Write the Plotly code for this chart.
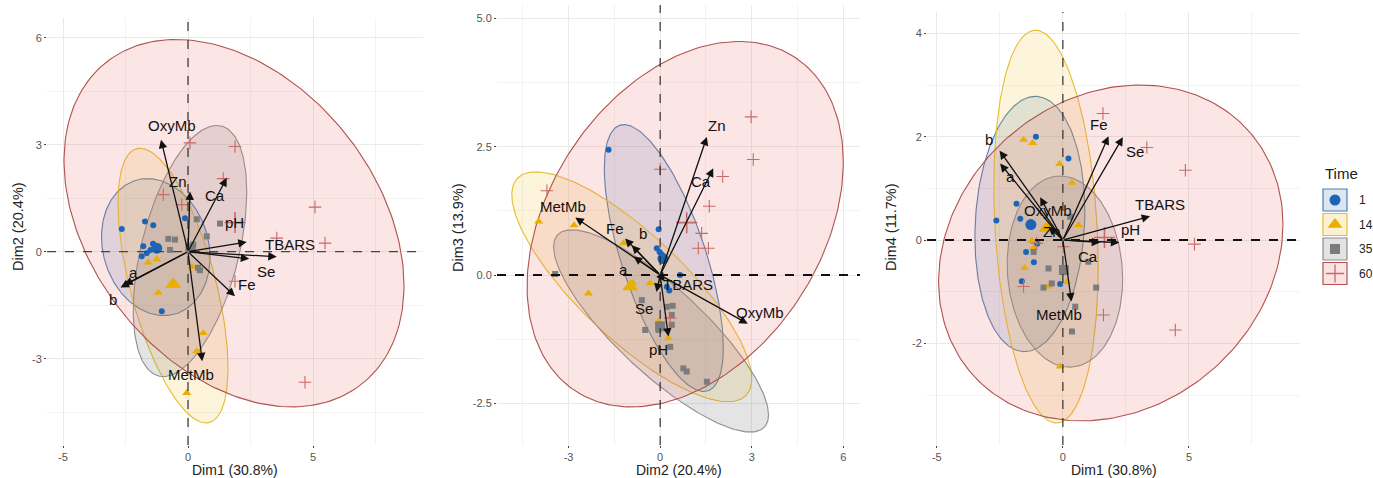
import numpy as np
import plotly.graph_objects as go

# ---------------- data ----------------
GROUPS = ["1", "14", "35", "60"]
VARS = ["OxyMb", "Zn", "Ca", "pH", "TBARS", "Se", "Fe", "MetMb", "a", "b"]

# Panel 1: Dim1 (x) vs Dim2 (y)
P1_G1_X = [-2.65, -1.72, -1.39, -1.79, -1.85, -1.65, -1.50, -1.40, -1.05, -0.12]
P1_G1_Y = [0.64, 0.85, 0.74, 0.15, -0.13, -0.04, 0.05, 0.22, -1.67, 0.94]
P1_G14_X = [-1.59, -1.25, -1.19, 0.15, 0.61, 0.35, -0.05]
P1_G14_Y = [-0.30, -0.22, -1.15, -0.42, -2.28, -2.79, -3.96]
P1_G35_X = [0.35, 1.28, 0.75, -0.79, -0.52, -0.72, 0.48, 0.21, 0.40]
P1_G35_Y = [0.91, 0.79, 0.43, 0.36, 0.34, 0.05, -0.52, 0.20, -0.45]
P1_G60_X = [0.08, 1.88, 1.41, -0.25, -0.99, 5.08, 5.48, 3.55, 4.68, 1.88]
P1_G60_Y = [3.05, 2.95, 2.05, 1.32, 1.60, 1.25, 0.24, 0.38, -3.66, -0.83]
P1_MEAN_X = [-1.25, -0.59, 0.10, 1.88]
P1_MEAN_Y = [0.10, -0.91, 0.10, 0.82]
P1_ELL_CX = [-1.29, -0.60, 0.08, 1.84]
P1_ELL_CY = [0.13, -0.95, 0.02, 0.80]
P1_ELL_RX = [2.17, 2.20, 2.27, 6.80]
P1_ELL_RY = [1.92, 3.85, 3.52, 5.15]
P1_ELL_RHO = [-0.15, -0.60, 0.47, -0.34]
P1_ARROW_X = [-1.08, 0.08, 1.55, 2.35, 3.55, 2.45, 1.88, 0.57, -2.55, -2.70]
P1_ARROW_Y = [3.14, 1.69, 2.07, 0.27, -0.14, -0.20, -1.25, -3.07, -0.93, -1.00]

# Panel 2: Dim2 (x) vs Dim3 (y)
P2_G1_X = [-1.69, -0.05, -0.11, -0.02, 0.65, 0.22, 0.30, 0.05]
P2_G1_Y = [2.44, 0.89, 0.52, 0.45, 0.00, -0.23, -0.30, 0.40]
P2_G14_X = [-3.98, -2.82, -1.20, -0.33, -2.35, -0.05, 0.27, -0.90]
P2_G14_Y = [1.04, 0.97, 0.62, -0.16, -0.36, -0.91, -1.23, -0.15]
P2_G35_X = [-3.44, -0.60, 0.22, 0.41, 0.38, -0.49, -0.05, 0.38, 0.33, 0.76, 0.87, 1.53]
P2_G35_Y = [0.02, -0.49, -0.62, -0.60, -0.78, -1.07, -1.07, -0.97, -1.40, -1.82, -1.88, -2.08]
P2_G60_X = [-3.71, 0.00, 2.05, 2.98, 3.05, 1.61, 1.36, 1.25, 1.58, 0.33]
P2_G60_Y = [1.64, 2.06, 1.92, 3.08, 2.25, 1.34, 0.81, 0.52, 0.52, -0.84]
P2_MEAN_X = [0.09, -0.98, 0.00, 0.87]
P2_MEAN_Y = [0.32, -0.23, -1.00, 1.02]
P2_ELL_CX = [0.12, -0.93, 0.03, 0.82]
P2_ELL_CY = [0.33, -0.23, -1.09, 0.99]
P2_ELL_RX = [1.95, 3.93, 3.52, 5.18]
P2_ELL_RY = [2.60, 2.24, 1.97, 3.56]
P2_ELL_RHO = [-0.67, -0.80, -0.83, 0.34]
P2_ARROW_X = [2.87, 1.53, 1.74, 0.27, 0.15, -0.12, -1.15, -2.78, -0.87, -0.93]
P2_ARROW_Y = [-0.95, 2.69, 2.08, -1.20, -0.12, -0.33, 0.71, 1.12, 0.36, 0.58]

# Panel 3: Dim1 (x) vs Dim4 (y)
P3_G1_X = [-1.07, 0.22, -1.84, -2.64, -1.69, -1.02, -1.46, -1.15, -1.63, -0.11]
P3_G1_Y = [2.00, 1.58, 0.70, 0.38, 0.41, -0.07, -0.23, -0.43, -0.80, -0.85]
P3_G14_X = [-1.56, -1.20, -0.13, 0.36, 0.62, -1.23, -1.17, -1.52, 0.16, -0.57, -0.11]
P3_G14_Y = [1.94, 1.88, 1.47, 1.11, 0.29, -0.01, -0.16, -0.54, -0.81, -0.90, -2.45]
P3_G35_X = [0.29, 1.01, -0.57, -0.44, -0.77, 1.32, 0.49, 0.36, -1.16]
P3_G35_Y = [0.45, -0.42, -0.55, -0.84, -0.92, -0.92, -1.29, -1.77, -0.23]
P3_G60_X = [1.59, 3.33, 4.86, 5.22, 4.46, 1.61, -1.56, -1.04, 0.02]
P3_G60_Y = [2.45, 1.79, 1.35, -0.08, -1.74, -1.45, -0.90, -0.06, -0.13]
P3_MEAN_X = [-1.27, -0.65, 0.04, 1.65]
P3_MEAN_Y = [0.30, 0.23, -0.58, 0.05]
P3_ELL_CX = [-1.31, -0.67, 0.08, 1.90]
P3_ELL_CY = [0.31, 0.26, -0.61, -0.25]
P3_ELL_RX = [2.18, 2.07, 2.29, 6.83]
P3_ELL_RY = [2.47, 3.80, 1.85, 3.25]
P3_ELL_RHO = [0.10, -0.20, -0.08, 0.17]
P3_ARROW_X = [-0.90, -0.57, 1.48, 2.24, 3.46, 2.38, 1.81, 0.34, -2.49, -2.51]
P3_ARROW_Y = [0.83, 0.26, -0.05, -0.05, 0.46, 1.99, 2.01, -1.19, 1.48, 1.73]

AXIS_TITLES = [("Dim1 (30.8%)", "Dim2 (20.4%)"),
               ("Dim2 (20.4%)", "Dim3 (13.9%)"),
               ("Dim1 (30.8%)", "Dim4 (11.7%)")]
X_TICKS = [[-5, 0, 5], [-3, 0, 3, 6], [-5, 0, 5]]
X_TICKTEXT = [["-5", "0", "5"], ["-3", "0", "3", "6"], ["-5", "0", "5"]]
Y_TICKS = [[-3, 0, 3, 6], [-2.5, 0, 2.5, 5], [-2, 0, 2, 4]]
Y_TICKTEXT = [["-3", "0", "3", "6"], ["-2.5", "0.0", "2.5", "5.0"], ["-2", "0", "2", "4"]]

# ---------------- styles / layout ----------------
W, H = 1373, 478
FONT = "Liberation Sans, Arial, sans-serif"
PT_COLOR = {"1": "#1D63B8", "14": "#E8AE00", "35": "#7C7C7C", "60": "#C86A68"}
LINE_COLOR = {"1": "#4A80B2", "14": "#E6BE2E", "35": "#8E8E8E", "60": "#B0524E"}
FILL_COLOR = {"1": "rgba(60,110,175,0.17)", "14": "rgba(245,195,40,0.17)",
              "35": "rgba(120,120,120,0.20)", "60": "rgba(235,110,110,0.18)"}
LEG_FILL = {"1": "#DCE6F1", "14": "#FCF1D2", "35": "#E2E2E2", "60": "#FBE3E3"}
SYMBOL = {"1": "circle", "14": "triangle-up", "35": "square", "60": "cross-thin"}
SIZE = {"1": 6, "14": 8, "35": 6, "60": 9}
MEAN_SIZE = {"1": 11, "14": 14, "35": 10, "60": 15}
LEG_SIZE = {"1": 11, "14": 13, "35": 10, "60": 13}

# pixel boxes of each panel: left, right, top, bottom
PANELS = [(47, 423, 18, 445), (497, 860, 5, 445), (927, 1300, 12, 445)]
RANGES_X = [[-5.64, 9.40], [-5.345, 6.547], [-5.39, 9.405]]
RANGES_Y = [[-5.419, 6.552], [-3.312, 5.260], [-3.967, 4.413]]
MINOR_X = [2.5, 1.5, 2.5]
MINOR_Y = [1.5, 1.25, 1.0]
HLINE_W = [1.2, 2, 2]
YTITLE_X = [18, 458, 891]

LABEL_SHIFT = [
    {"OxyMb": (11, 14), "Zn": (-12, 10), "Ca": (-12, -18), "pH": (-12, 20), "TBARS": (13, 12),
     "Se": (17, -13), "Fe": (12, 12), "MetMb": (-11, -13), "a": (9, 12), "b": (-8, -12)},
    {"OxyMb": (12, 11), "Zn": (10, 11), "Ca": (-12, -13), "pH": (-10, -13), "TBARS": (23, -3),
     "Se": (-12, -17), "Fe": (-10, 10), "MetMb": (-12, 11), "a": (-10, -13), "b": (11, 12)},
    {"OxyMb": (8, -13), "Zn": (3, -5), "Ca": (-12, -14), "pH": (11, 13), "TBARS": (10, 12),
     "Se": (12, -14), "Fe": (-10, 12), "MetMb": (-12, -13), "a": (10, -13), "b": (-11, 11)},
]

PANEL_DATA = [
    dict(pts={"1": (P1_G1_X, P1_G1_Y), "14": (P1_G14_X, P1_G14_Y),
              "35": (P1_G35_X, P1_G35_Y), "60": (P1_G60_X, P1_G60_Y)},
         mean=(P1_MEAN_X, P1_MEAN_Y),
         ell=(P1_ELL_CX, P1_ELL_CY, P1_ELL_RX, P1_ELL_RY, P1_ELL_RHO),
         arrows=(P1_ARROW_X, P1_ARROW_Y)),
    dict(pts={"1": (P2_G1_X, P2_G1_Y), "14": (P2_G14_X, P2_G14_Y),
              "35": (P2_G35_X, P2_G35_Y), "60": (P2_G60_X, P2_G60_Y)},
         mean=(P2_MEAN_X, P2_MEAN_Y),
         ell=(P2_ELL_CX, P2_ELL_CY, P2_ELL_RX, P2_ELL_RY, P2_ELL_RHO),
         arrows=(P2_ARROW_X, P2_ARROW_Y)),
    dict(pts={"1": (P3_G1_X, P3_G1_Y), "14": (P3_G14_X, P3_G14_Y),
              "35": (P3_G35_X, P3_G35_Y), "60": (P3_G60_X, P3_G60_Y)},
         mean=(P3_MEAN_X, P3_MEAN_Y),
         ell=(P3_ELL_CX, P3_ELL_CY, P3_ELL_RX, P3_ELL_RY, P3_ELL_RHO),
         arrows=(P3_ARROW_X, P3_ARROW_Y)),
]


def ellipse(cx, cy, rx, ry, rho, n=240):
    t = np.linspace(0, 2 * np.pi, n)
    phi = np.arccos(rho)
    return cx + rx * np.cos(t), cy + ry * np.cos(t - phi)


fig = go.Figure()
annotations = []
shapes = []

for p, pdata in enumerate(PANEL_DATA):
    xa = "x" if p == 0 else f"x{p+1}"
    ya = "y" if p == 0 else f"y{p+1}"
    cx, cy, rx, ry, rho = pdata["ell"]
    for g_i, g in enumerate(GROUPS):
        ex, ey = ellipse(cx[g_i], cy[g_i], rx[g_i], ry[g_i], rho[g_i])
        fig.add_trace(go.Scatter(x=ex, y=ey, mode="lines", fill="toself",
                                 fillcolor=FILL_COLOR[g],
                                 line=dict(color=LINE_COLOR[g], width=1.1),
                                 xaxis=xa, yaxis=ya, showlegend=False, hoverinfo="skip"))
    for g_i, g in enumerate(GROUPS):
        px_, py_ = pdata["pts"][g]
        mk = dict(symbol=SYMBOL[g], size=SIZE[g], color=PT_COLOR[g])
        mk_mean = dict(symbol=SYMBOL[g], size=MEAN_SIZE[g], color=PT_COLOR[g])
        if g == "60":
            mk["line"] = dict(color=PT_COLOR[g], width=1.1)
            mk_mean["line"] = dict(color=PT_COLOR[g], width=1.6)
        fig.add_trace(go.Scatter(x=px_, y=py_, mode="markers", marker=mk,
                                 xaxis=xa, yaxis=ya, showlegend=False))
        fig.add_trace(go.Scatter(x=[pdata["mean"][0][g_i]], y=[pdata["mean"][1][g_i]],
                                 mode="markers", marker=mk_mean,
                                 xaxis=xa, yaxis=ya, showlegend=False))
    shapes.append(dict(type="line", xref=xa, yref=f"{ya} domain", x0=0, x1=0, y0=0, y1=1,
                       line=dict(color="#222", width=1.1, dash="dash"), layer="above"))
    shapes.append(dict(type="line", xref=f"{xa} domain", yref=ya, x0=0, x1=1, y0=0, y1=0,
                       line=dict(color="#111" if p else "#444", width=HLINE_W[p], dash="dash"),
                       layer="above"))
    axx, axy = pdata["arrows"]
    for v_i, v in enumerate(VARS):
        annotations.append(dict(x=axx[v_i], y=axy[v_i], ax=0, ay=0, xref=xa, yref=ya,
                                axref=xa, ayref=ya, text="", showarrow=True,
                                arrowhead=2, arrowsize=1.3, arrowwidth=1.3,
                                arrowcolor="#111", standoff=0))
        sx, sy = LABEL_SHIFT[p][v]
        annotations.append(dict(x=axx[v_i], y=axy[v_i], xref=xa, yref=ya, text=v,
                                showarrow=False, xshift=sx, yshift=sy,
                                xanchor="center", yanchor="middle",
                                font=dict(family=FONT, size=15, color="#111")))
    l, r, t, b = PANELS[p]
    annotations.append(dict(x=(l + r) / 2 / W, y=1 - 469.5 / H, xref="paper", yref="paper",
                            text=AXIS_TITLES[p][0], showarrow=False,
                            xanchor="center", yanchor="middle",
                            font=dict(family=FONT, size=14, color="#222")))
    annotations.append(dict(x=YTITLE_X[p] / W, y=1 - 227 / H, xref="paper", yref="paper",
                            text=AXIS_TITLES[p][1], showarrow=False, textangle=-90,
                            xanchor="center", yanchor="middle",
                            font=dict(family=FONT, size=14.5, color="#222")))

axis_common = dict(showline=False, zeroline=False, ticks="outside", ticklen=2,
                   tickcolor="#444", tickwidth=1, showgrid=True, gridcolor="#E9E9E9",
                   gridwidth=1, tickfont=dict(family=FONT, size=11, color="#555"))
layout_axes = {}
for p in range(3):
    l, r, t, b = PANELS[p]
    xk = "xaxis" if p == 0 else f"xaxis{p+1}"
    yk = "yaxis" if p == 0 else f"yaxis{p+1}"
    ya = "y" if p == 0 else f"y{p+1}"
    xa = "x" if p == 0 else f"x{p+1}"
    layout_axes[xk] = dict(axis_common, domain=[l / W, r / W], range=RANGES_X[p],
                           anchor=ya, tickmode="array", tickvals=X_TICKS[p],
                           ticktext=X_TICKTEXT[p],
                           minor=dict(tickmode="linear", tick0=0, dtick=MINOR_X[p],
                                      showgrid=True, gridcolor="#F3F3F3", gridwidth=1))
    layout_axes[yk] = dict(axis_common, domain=[1 - b / H, 1 - t / H], range=RANGES_Y[p],
                           anchor=xa, tickmode="array", tickvals=Y_TICKS[p],
                           ticktext=Y_TICKTEXT[p],
                           minor=dict(tickmode="linear", tick0=0, dtick=MINOR_Y[p],
                                      showgrid=True, gridcolor="#F3F3F3", gridwidth=1))

# legend drawn on its own pixel-like axis
LEG_L, LEG_R, LEG_T, LEG_B = 1300, 1373, 150, 300
layout_axes["xaxis4"] = dict(domain=[LEG_L / W, 1], range=[LEG_L, LEG_R], visible=False,
                             anchor="y4", fixedrange=True)
layout_axes["yaxis4"] = dict(domain=[1 - LEG_B / H, 1 - LEG_T / H], range=[LEG_B, LEG_T],
                             visible=False, anchor="x4", fixedrange=True)
LEG_KEY_Y = [200, 224.5, 249, 273.5]
LEG_BOX_X = (1323, 1347)
LEG_BOX_H = 22
annotations.append(dict(x=1323, y=173, xref="x4", yref="y4", text="Time", showarrow=False,
                        xanchor="left", yanchor="middle",
                        font=dict(family=FONT, size=15, color="#222")))
for g_i, g in enumerate(GROUPS):
    ky = LEG_KEY_Y[g_i]
    shapes.append(dict(type="rect", xref="x4", yref="y4", x0=LEG_BOX_X[0], x1=LEG_BOX_X[1],
                       y0=ky - LEG_BOX_H / 2, y1=ky + LEG_BOX_H / 2,
                       fillcolor=LEG_FILL[g], line=dict(color=LINE_COLOR[g], width=1.2),
                       layer="below"))
    mk = dict(symbol=SYMBOL[g], size=LEG_SIZE[g], color=PT_COLOR[g])
    if g == "60":
        mk["line"] = dict(color=PT_COLOR[g], width=1.3)
    fig.add_trace(go.Scatter(x=[(LEG_BOX_X[0] + LEG_BOX_X[1]) / 2], y=[ky], mode="markers",
                             marker=mk, xaxis="x4", yaxis="y4", showlegend=False,
                             hoverinfo="skip", cliponaxis=False))
    annotations.append(dict(x=1357, y=ky, xref="x4", yref="y4", text=g, showarrow=False,
                            xanchor="left", yanchor="middle",
                            font=dict(family=FONT, size=12, color="#222")))

fig.update_layout(width=W, height=H, margin=dict(l=0, r=0, t=0, b=0),
                  paper_bgcolor="white", plot_bgcolor="white", showlegend=False,
                  annotations=annotations, shapes=shapes,
                  font=dict(family=FONT), **layout_axes)

fig.write_html("out.html", config={"displayModeBar": False},
               post_script="document.body.style.margin='0';document.body.style.overflow='hidden';")
